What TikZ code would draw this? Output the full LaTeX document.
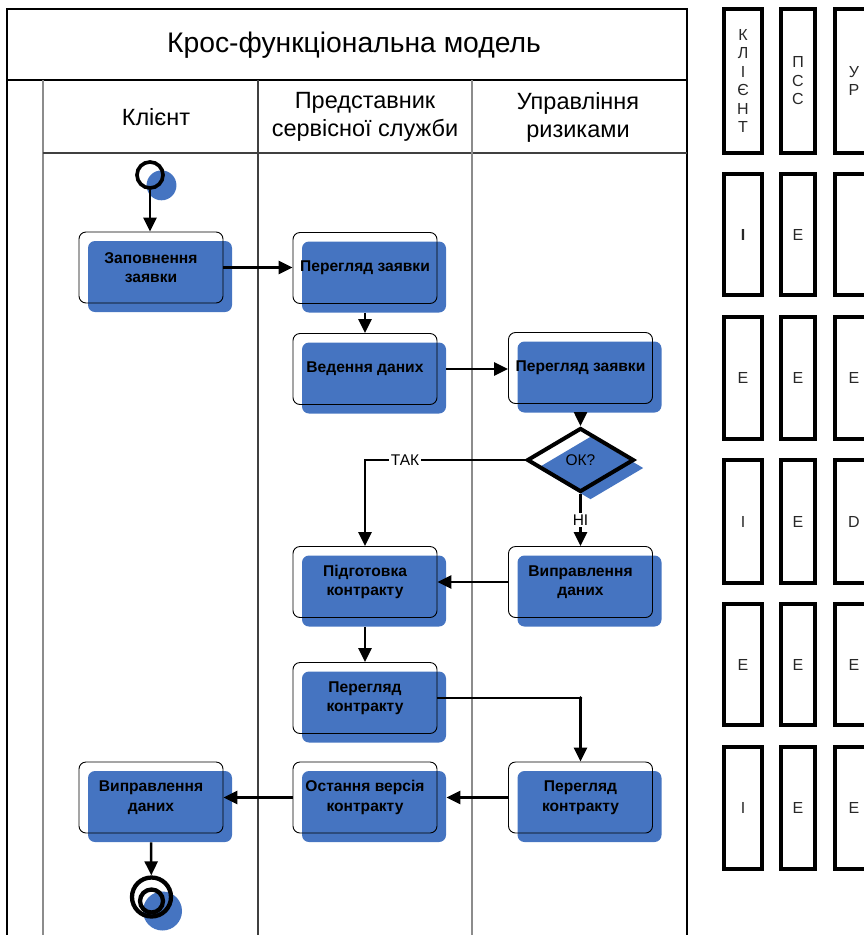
\documentclass[tikz,border=0pt]{standalone}
\usepackage{fontspec}
\setmainfont{Liberation Sans}
\usetikzlibrary{arrows.meta,shapes.geometric,shadows}
\definecolor{taskblue}{RGB}{69,116,193}
\definecolor{cellgray}{RGB}{40,40,40}
\begin{document}
\begin{tikzpicture}[x=1pt,y=-1pt,
  frame/.style={line width=1.3pt, draw=black},
  lane/.style={line width=1.1pt, draw=black!75},
  lanegray/.style={line width=1.1pt, draw=black!45},
  titletext/.style={font=\fontsize{28.3}{32}\selectfont, inner sep=0pt},
  lanetext/.style={font=\fontsize{23.5}{28}\selectfont, align=center, inner sep=0pt},
  task/.style={draw=black, line width=0.9pt, rounded corners=7pt,
    minimum width=144pt, minimum height=71pt, inner sep=0pt, align=center,
    font=\fontsize{15.6}{19.5}\selectfont\bfseries,
    general shadow={fill=taskblue, shadow xshift=9pt, shadow yshift=-9pt}},
  decision/.style={diamond, draw=black, line width=4pt, minimum width=107pt,
    minimum height=64pt, inner sep=0pt, font=\fontsize{15.5}{17}\selectfont,
    general shadow={fill=taskblue, shadow xshift=10pt, shadow yshift=-8pt}},
  startev/.style={circle, draw=black, line width=3.7pt, minimum size=26pt, inner sep=0pt,
    general shadow={fill=taskblue, shadow xshift=10pt, shadow yshift=-9pt, shadow scale=1.15}},
  endev/.style={circle, draw=black, line width=4.3pt, minimum size=39pt, inner sep=0pt,
    general shadow={fill=taskblue, shadow xshift=11pt, shadow yshift=-14pt}},
  flow/.style={line width=2.5pt, -{Triangle[length=14pt,width=13pt]}},
  lbl/.style={fill=white, inner sep=1.5pt, font=\fontsize{15.5}{17}\selectfont},
  cell/.style={draw=black, line width=4pt, inner sep=0pt, align=center, text=cellgray,
    font=\fontsize{16}{18.5}\selectfont}
]
\clip (0,0) rectangle (864,935);
\useasboundingbox (0,0) rectangle (864,935);

% swimlane frame
\draw[frame] (7,940) -- (7,9) -- (687,9) -- (687,940);
\draw[frame] (7,80) -- (687,80);
\draw[lanegray] (43,80) -- (43,940);
\draw[lane] (43,153) -- (687,153);
\draw[lane] (258,80) -- (258,940);
\draw[lanegray] (472,80) -- (472,940);

\node[titletext] (ttl) at (354,45) {Крос-функціональна модель};
\node[lanetext] (h1) at (156,117) {Клієнт};
\node[lanetext] (h2) at (365,117) {Представник\\сервісної служби};
\node[lanetext] (h3) at (578,117) {Управління\\ризиками};

% events, tasks, decision
\node[startev] (start) at (150,175) {};
\node[task] (t1) at (151,267.5) {Заповнення\\заявки};
\node[task] (t2) at (365,268) {Перегляд заявки};
\node[task] (t3) at (365,369) {Ведення даних};
\node[task] (t4) at (580.5,368) {Перегляд заявки};
\node[decision] (dia) at (580.5,460) {ОК?};
\node[task] (t5) at (365,582) {Підготовка\\контракту};
\node[task] (t6) at (580.5,582) {Виправлення\\даних};
\node[task] (t7) at (365,698) {Перегляд\\контракту};
\node[task] (t8) at (580.5,797.5) {Перегляд\\контракту};
\node[task] (t9) at (365,797.5) {Остання версія\\контракту};
\node[task] (t10) at (151,797.5) {Виправлення\\даних};
\node[endev] (end) at (151.5,897) {};
\draw[line width=4.3pt] ([yshift=-4pt]end.center) circle (11.5pt);

% connectors
\draw[flow] (start) -- (start |- t1.north);
\draw[flow] (t1.east) -- (t1.east -| t2.west);
\draw[flow] ([yshift=-9pt]t2.south) -- (t3.north);
\draw[flow] ([xshift=9pt]t3.east) -- (t3.east -| t4.west);
\draw[flow] ([yshift=-9pt]t4.south) -- (dia.north);
\draw[flow] (dia.west) -| node[pos=0.375, lbl] (tak) {ТАК} (t5.north);
\draw[flow] (dia.south) -- node[lbl] (ni) {НІ} (t6.north);
\draw[flow] (t6.west) -- (t6.west -| t5.east);
\draw[flow] ([yshift=-9pt]t5.south) -- (t7.north);
\coordinate (k1) at (t7.east -| t8.north);
\draw[flow] (t7.east) -- (k1) -- (t8.north);
\fill (k1) circle (1.8pt);
\draw[flow] (t8.west) -- ([xshift=9pt]t8.west -| t9.east);
\draw[flow] (t9.west) -- (t9.west -| t10.east);
\draw[flow] ([yshift=-9pt]t10.south) -- (end);

% responsibility table
\node[cell, minimum width=38pt, minimum height=144pt] (c11) at (743,81) {К\\Л\\І\\Є\\Н\\Т};
\node[cell, minimum width=34pt, minimum height=144pt] (c12) at (798,81) {П\\С\\С};
\node[cell, minimum width=38pt, minimum height=144pt] (c13) at (854,81) {У\\Р};

\node[cell, minimum width=38pt, minimum height=121pt, font=\fontsize{16}{18.5}\selectfont\bfseries] (c21) at (743,234.5) {І};
\node[cell, minimum width=34pt, minimum height=121pt] (c22) at (798,234.5) {E};
\node[cell, minimum width=38pt, minimum height=121pt] (c23) at (854,234.5) {};

\node[cell, minimum width=38pt, minimum height=122pt] (c31) at (743,378) {E};
\node[cell, minimum width=34pt, minimum height=122pt] (c32) at (798,378) {E};
\node[cell, minimum width=38pt, minimum height=122pt] (c33) at (854,378) {E};

\node[cell, minimum width=38pt, minimum height=123pt] (c41) at (743,521.5) {I};
\node[cell, minimum width=34pt, minimum height=123pt] (c42) at (798,521.5) {E};
\node[cell, minimum width=38pt, minimum height=123pt] (c43) at (854,521.5) {D};

\node[cell, minimum width=38pt, minimum height=121pt] (c51) at (743,664.5) {E};
\node[cell, minimum width=34pt, minimum height=121pt] (c52) at (798,664.5) {E};
\node[cell, minimum width=38pt, minimum height=121pt] (c53) at (854,664.5) {E};

\node[cell, minimum width=38pt, minimum height=122pt] (c61) at (743,808) {I};
\node[cell, minimum width=34pt, minimum height=122pt] (c62) at (798,808) {E};
\node[cell, minimum width=38pt, minimum height=122pt] (c63) at (854,808) {E};
\end{tikzpicture}
\end{document}
